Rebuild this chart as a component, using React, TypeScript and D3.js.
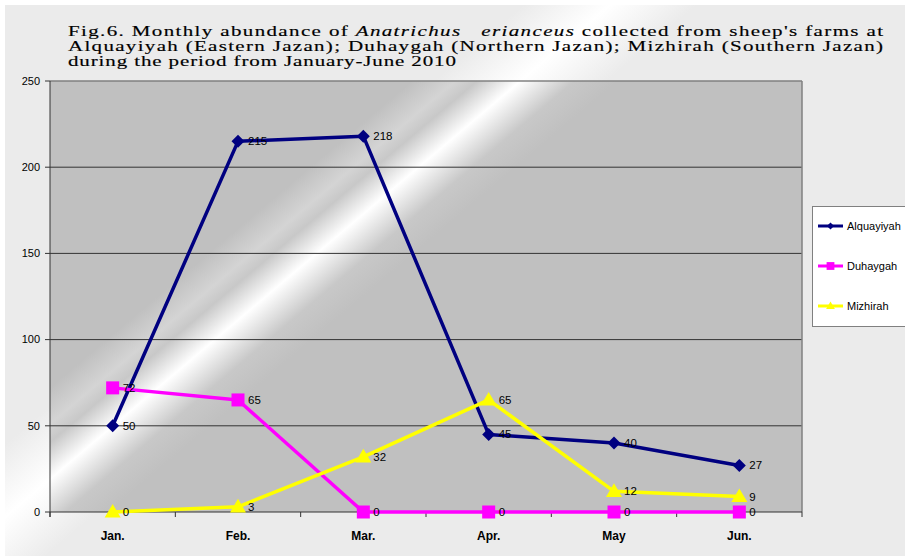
import React from "react";
import * as d3 from "d3";

const months = ["Jan.", "Feb.", "Mar.", "Apr.", "May", "Jun."];
const alquayiyah = [50, 215, 218, 45, 40, 27];
const duhaygah = [72, 65, 0, 0, 0, 0];
const mizhirah = [0, 3, 32, 65, 12, 9];
const yTicks = [0, 50, 100, 150, 200, 250];
const seriesNames = ["Alquayiyah", "Duhaygah", "Mizhirah"];

const W = 905;
const H = 556;
const left = 50;
const right = 802;
const top = 81;
const bottom = 512;

const sans = "'Liberation Sans', Arial, sans-serif";
const serif = "'Liberation Serif', 'Times New Roman', serif";

type Shape = "diamond" | "square" | "triangle";

function Marker({ x, y, shape, color, s = 1 }: { x: number; y: number; shape: Shape; color: string; s?: number }) {
  if (shape === "diamond") {
    const r = 6.5 * s;
    return <path d={`M${x},${y - r}L${x + r},${y}L${x},${y + r}L${x - r},${y}Z`} fill={color} />;
  }
  if (shape === "square") {
    const r = 6.5 * s;
    return <rect x={x - r} y={y - r} width={2 * r} height={2 * r} fill={color} />;
  }
  const r = 8 * s;
  return <path d={`M${x},${y - r}L${x + r},${y + r * 0.7}L${x - r},${y + r * 0.7}Z`} fill={color} />;
}

export default function App() {
  const x = d3.scaleBand<string>().domain(months).range([left, right]).padding(0);
  const y = d3.scaleLinear().domain([0, 250]).range([bottom, top]);
  const cx = (m: string) => (x(m) as number) + x.bandwidth() / 2;

  const series = [
    { name: seriesNames[0], values: alquayiyah, color: "#000080", shape: "diamond" as Shape },
    { name: seriesNames[1], values: duhaygah, color: "#ff00ff", shape: "square" as Shape },
    { name: seriesNames[2], values: mizhirah, color: "#ffff00", shape: "triangle" as Shape },
  ];

  const line = d3
    .line<number>()
    .x((_, i) => cx(months[i]))
    .y((v) => y(v));

  const boundaries = [...months.map((m) => x(m) as number), right];
  const sx = 1.5;

  return (
    <svg
      width={W}
      height={H}
      style={{ position: "absolute", left: 0, top: 0, display: "block" }}
      xmlns="http://www.w3.org/2000/svg"
    >
      <defs>
        <linearGradient id="plotGrad" gradientUnits="userSpaceOnUse" x1={64} y1={9} x2={516} y2={543}>
          <stop offset="0" stopColor="#c0c0c0" />
          <stop offset="0.40" stopColor="#c0c0c0" />
          <stop offset="0.44" stopColor="#d4d4d4" />
          <stop offset="0.46" stopColor="#c8c8c8" />
          <stop offset="0.50" stopColor="#ffffff" />
          <stop offset="0.55" stopColor="#c8c8c8" />
          <stop offset="0.59" stopColor="#c0c0c0" />
          <stop offset="1" stopColor="#c0c0c0" />
        </linearGradient>
        <linearGradient id="outerGrad" gradientUnits="userSpaceOnUse" x1={64} y1={9} x2={516} y2={543}>
          <stop offset="0" stopColor="#ebebeb" />
          <stop offset="0.42" stopColor="#ebebeb" />
          <stop offset="0.50" stopColor="#ffffff" />
          <stop offset="0.58" stopColor="#ebebeb" />
          <stop offset="1" stopColor="#ebebeb" />
        </linearGradient>
      </defs>

      <rect x={0} y={0} width={W} height={H} fill="#ffffff" />
      <rect x={5} y={5} width={W - 5} height={H - 5} fill="url(#outerGrad)" />

      {/* Title */}
      <g
        fontFamily={serif}
        fontSize={14}
        fill="#000"
        stroke="#000"
        strokeWidth={0.15}
        transform={`translate(68,0) scale(${sx},1)`}
      >
        <text x={0} y={36} textLength={815 / sx} lengthAdjust="spacing">
          Fig.6. Monthly abundance of <tspan fontStyle="italic">Anatrichus{"\u00a0\u00a0\u00a0"}erianceus</tspan> collected from sheep's farms at
        </text>
        <text x={0} y={51} textLength={815 / sx} lengthAdjust="spacing">
          Alquayiyah (Eastern Jazan); Duhaygah (Northern Jazan); Mizhirah (Southern Jazan)
        </text>
        <text x={0} y={66} textLength={388 / sx} lengthAdjust="spacing">
          during the period from January-June 2010
        </text>
      </g>

      {/* Plot area */}
      <rect x={left} y={top} width={right - left} height={bottom - top} fill="url(#plotGrad)" />
      {yTicks
        .filter((t) => t > 0 && t < 250)
        .map((t) => (
          <line key={t} x1={left} x2={right} y1={y(t)} y2={y(t)} stroke="#333" strokeWidth={1} />
        ))}
      <line x1={left} x2={right} y1={top} y2={top} stroke="#808080" strokeWidth={1.5} />
      <line x1={right} x2={right} y1={top} y2={bottom} stroke="#808080" strokeWidth={1.5} />

      {/* Y axis */}
      <line x1={left} x2={left} y1={top} y2={bottom + 5} stroke="#333" strokeWidth={1} />
      {yTicks.map((t) => (
        <g key={t}>
          <line x1={left - 5} x2={left} y1={y(t)} y2={y(t)} stroke="#333" />
          <text x={40} y={y(t)} dy="0.35em" textAnchor="end" fontFamily={sans} fontSize={11} fill="#000">
            {t}
          </text>
        </g>
      ))}

      {/* X axis */}
      <line x1={left} x2={right} y1={bottom} y2={bottom} stroke="#333" strokeWidth={1} />
      {boundaries.map((b, i) => (
        <line key={i} x1={b} x2={b} y1={bottom} y2={bottom + 5} stroke="#333" />
      ))}
      {months.map((m) => (
        <text key={m} x={cx(m)} y={540} textAnchor="middle" fontFamily={sans} fontSize={12} fontWeight="bold" fill="#000">
          {m}
        </text>
      ))}

      {/* Series */}
      {series.map((s) => (
        <g key={s.name}>
          <path d={line(s.values) as string} fill="none" stroke={s.color} strokeWidth={3.5} strokeLinejoin="round" />
          {s.values.map((v, i) => (
            <Marker key={i} x={cx(months[i])} y={y(v)} shape={s.shape} color={s.color} />
          ))}
        </g>
      ))}
      {series.map((s) =>
        s.values.map((v, i) => (
          <text
            key={s.name + i}
            x={cx(months[i]) + 10}
            y={y(v)}
            dy="0.35em"
            fontFamily={sans}
            fontSize={11.5}
            fill="#000"
          >
            {v}
          </text>
        ))
      )}

      {/* Legend */}
      <rect x={812.5} y={206.5} width={100} height={120} fill="#ffffff" stroke="#808080" strokeWidth={1} />
      {series.map((s, i) => {
        const ly = 226 + i * 40;
        return (
          <g key={s.name}>
            <line x1={818} x2={843} y1={ly} y2={ly} stroke={s.color} strokeWidth={3} />
            <Marker x={830.5} y={ly} shape={s.shape} color={s.color} s={s.shape === "square" ? 0.6 : 0.55} />
            <text x={847} y={ly} dy="0.35em" fontFamily={sans} fontSize={11} fill="#000">
              {s.name}
            </text>
          </g>
        );
      })}
    </svg>
  );
}
